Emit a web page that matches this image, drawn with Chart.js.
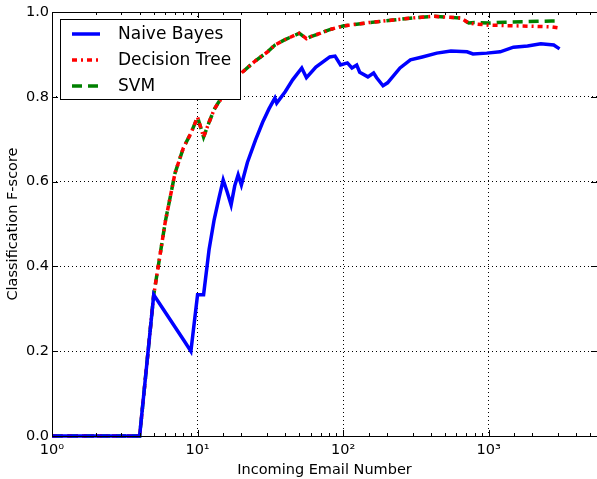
<!DOCTYPE html>
<html>
<head>
<meta charset="utf-8">
<script src="https://cdn.jsdelivr.net/npm/chart.js@4"></script>
<style>
  html, body { margin: 0; padding: 0; background: #fff; }
  #wrap { width: 597px; height: 479px; position: relative; }
</style>
</head>
<body>
<div id="wrap"><canvas id="chart"></canvas></div>
<script>
// --- data ---
const nbEmails = [1, 2, 3, 4, 5, 6, 7, 8, 9, 10, 11, 12, 13, 14, 15, 16, 17, 18, 19, 20,
  22, 25, 28, 31, 34, 35, 40, 45, 52, 56, 65, 81, 88, 96, 107, 115, 124, 130, 148, 162, 170, 188,
  202, 246, 290, 350, 440, 550, 710, 780, 970, 1200, 1480, 1850, 2280, 2800, 3070];
const nbScores = [0, 0, 0, 0, 0.333, 0.292, 0.257, 0.227, 0.2, 0.333, 0.333, 0.44, 0.51, 0.56, 0.604, 0.575, 0.545, 0.59, 0.616, 0.592,
  0.645, 0.698, 0.74, 0.772, 0.797, 0.785, 0.812, 0.84, 0.868, 0.845, 0.87, 0.894, 0.896, 0.875, 0.88, 0.868, 0.875, 0.858, 0.847, 0.856, 0.845, 0.826,
  0.833, 0.868, 0.887, 0.894, 0.903, 0.908, 0.906, 0.901, 0.903, 0.906, 0.917, 0.92, 0.925, 0.922, 0.913];

const treeEmails = [1, 2, 3, 4, 5, 6, 7, 8, 9, 10, 11, 12, 13, 14, 15, 16, 17, 18, 20, 25,
  30, 34, 40, 50, 56, 60, 70, 80, 100, 150, 220, 300, 420, 500, 640, 730, 800, 1000, 1300, 1700,
  2200, 2700, 3070];
const dtScores = [0, 0, 0, 0, 0.333, 0.505, 0.62, 0.68, 0.714, 0.752, 0.705, 0.74, 0.77, 0.788, 0.80, 0.815, 0.83, 0.84, 0.856, 0.885,
  0.905, 0.922, 0.935, 0.95, 0.937, 0.942, 0.95, 0.958, 0.967, 0.975, 0.981, 0.986, 0.99, 0.988, 0.986, 0.974, 0.972, 0.969, 0.968, 0.967,
  0.966, 0.965, 0.962];
const svmScores = [0, 0, 0, 0, 0.333, 0.505, 0.62, 0.68, 0.714, 0.752, 0.705, 0.74, 0.77, 0.788, 0.80, 0.815, 0.83, 0.84, 0.856, 0.885,
  0.905, 0.922, 0.935, 0.95, 0.937, 0.942, 0.95, 0.958, 0.967, 0.975, 0.981, 0.986, 0.99, 0.988, 0.986, 0.974, 0.975, 0.974, 0.976, 0.977,
  0.978, 0.979, 0.979];

const xMin = 1;
const xMax = 5550;
const supDigits = ['⁰', '¹', '²', '³', '⁴'];

function toPoints(xs, ys) {
  return xs.map((x, i) => ({ x: x, y: ys[i] }));
}

function isDecade(v) {
  const l = Math.log10(v);
  return Math.abs(l - Math.round(l)) < 1e-9;
}

// frame + inward ticks, matplotlib style
const frameAndTicks = {
  id: 'frameAndTicks',
  afterDatasetsDraw(chart) {
    const { ctx, chartArea: a, scales: { x, y } } = chart;
    ctx.save();
    ctx.strokeStyle = '#000';
    ctx.lineWidth = 1;
    ctx.setLineDash([]);
    ctx.beginPath();
    x.ticks.forEach(t => {
      if (t.value <= xMin || t.value >= xMax) return;
      const px = Math.round(x.getPixelForValue(t.value)) + 0.5;
      const len = isDecade(t.value) ? 6 : 3;
      ctx.moveTo(px, a.bottom); ctx.lineTo(px, a.bottom - len);
      ctx.moveTo(px, a.top); ctx.lineTo(px, a.top + len);
    });
    y.ticks.forEach(t => {
      const py = Math.round(y.getPixelForValue(t.value)) + 0.5;
      ctx.moveTo(a.left, py); ctx.lineTo(a.left + 6, py);
      ctx.moveTo(a.right, py); ctx.lineTo(a.right - 6, py);
    });
    ctx.stroke();
    ctx.strokeRect(a.left + 0.5, a.top + 0.5, a.right - a.left, a.bottom - a.top);
    ctx.restore();
  }
};

// boxed legend in the upper left corner
const boxLegend = {
  id: 'boxLegend',
  afterDraw(chart) {
    const ctx = chart.ctx;
    const box = { x: 60.5, y: 19.5, w: 180, h: 80 };
    ctx.save();
    ctx.fillStyle = '#fff';
    ctx.fillRect(box.x, box.y, box.w, box.h);
    ctx.strokeStyle = '#000';
    ctx.lineWidth = 1;
    ctx.setLineDash([]);
    ctx.strokeRect(box.x, box.y, box.w, box.h);
    ctx.font = '17px "DejaVu Sans"';
    ctx.textBaseline = 'middle';
    ctx.fillStyle = '#000';
    chart.data.datasets.forEach((ds, i) => {
      const ly = 34 + i * 26;
      ctx.strokeStyle = ds.borderColor;
      ctx.lineWidth = ds.borderWidth;
      ctx.setLineDash(ds.borderDash || []);
      ctx.beginPath();
      ctx.moveTo(72, ly);
      ctx.lineTo(100, ly);
      ctx.stroke();
      ctx.setLineDash([]);
      ctx.fillText(ds.label, 118, ly + 1);
    });
    ctx.restore();
  }
};

const ctx = document.getElementById('chart').getContext('2d');
new Chart(ctx, {
  type: 'line',
  data: {
    datasets: [
      {
        label: 'Naive Bayes',
        data: toPoints(nbEmails, nbScores),
        borderColor: '#0000ff',
        borderWidth: 3.5,
        pointRadius: 0,
        tension: 0,
        clip: false
      },
      {
        label: 'Decision Tree',
        data: toPoints(treeEmails, dtScores),
        borderColor: '#ff0000',
        borderWidth: 3.5,
        borderDash: [5, 4, 2, 4],
        pointRadius: 0,
        tension: 0,
        clip: false
      },
      {
        label: 'SVM',
        data: toPoints(treeEmails, svmScores),
        borderColor: '#008000',
        borderWidth: 3.5,
        borderDash: [10, 6],
        pointRadius: 0,
        tension: 0,
        clip: false
      }
    ]
  },
  options: {
    responsive: true,
    maintainAspectRatio: false,
    animation: false,
    layout: { padding: { top: 12, right: 0, left: 0, bottom: 0 } },
    plugins: {
      legend: { display: false },
      tooltip: { enabled: false }
    },
    scales: {
      x: {
        type: 'logarithmic',
        min: xMin,
        max: xMax,
        afterFit: s => { s.height = 43; s.paddingLeft = 0; s.paddingRight = 0; },
        grid: {
          drawTicks: false,
          color: c => (c.tick && isDecade(c.tick.value) && c.tick.value > xMin) ? '#000' : 'rgba(0,0,0,0)',
          lineWidth: 1
        },
        border: { display: false, dash: [1, 3] },
        ticks: {
          autoSkip: false,
          maxRotation: 0,
          padding: 6,
          color: '#000',
          font: { family: 'DejaVu Sans', size: 14.5 },
          callback: v => isDecade(v) ? '10' + supDigits[Math.round(Math.log10(v))] : ''
        },
        title: {
          display: true,
          text: 'Incoming Email Number',
          color: '#000',
          font: { family: 'DejaVu Sans', size: 14.5 },
          padding: { top: 1, bottom: 0 }
        }
      },
      y: {
        min: 0,
        max: 1,
        afterFit: s => { s.width = 52; s.paddingTop = 0; s.paddingBottom = 0; },
        grid: {
          drawTicks: false,
          color: c => (c.tick && c.tick.value > 0 && c.tick.value < 1) ? '#000' : 'rgba(0,0,0,0)',
          lineWidth: 1
        },
        border: { display: false, dash: [1, 3] },
        ticks: {
          stepSize: 0.2,
          padding: 3,
          color: '#000',
          font: { family: 'DejaVu Sans', size: 14.5 },
          callback: v => v.toFixed(1)
        },
        title: {
          display: true,
          text: 'Classification F-score',
          color: '#000',
          font: { family: 'DejaVu Sans', size: 14.5 },
          padding: { top: 5, bottom: 0 }
        }
      }
    }
  },
  plugins: [frameAndTicks, boxLegend]
});
</script>
</body>
</html>
